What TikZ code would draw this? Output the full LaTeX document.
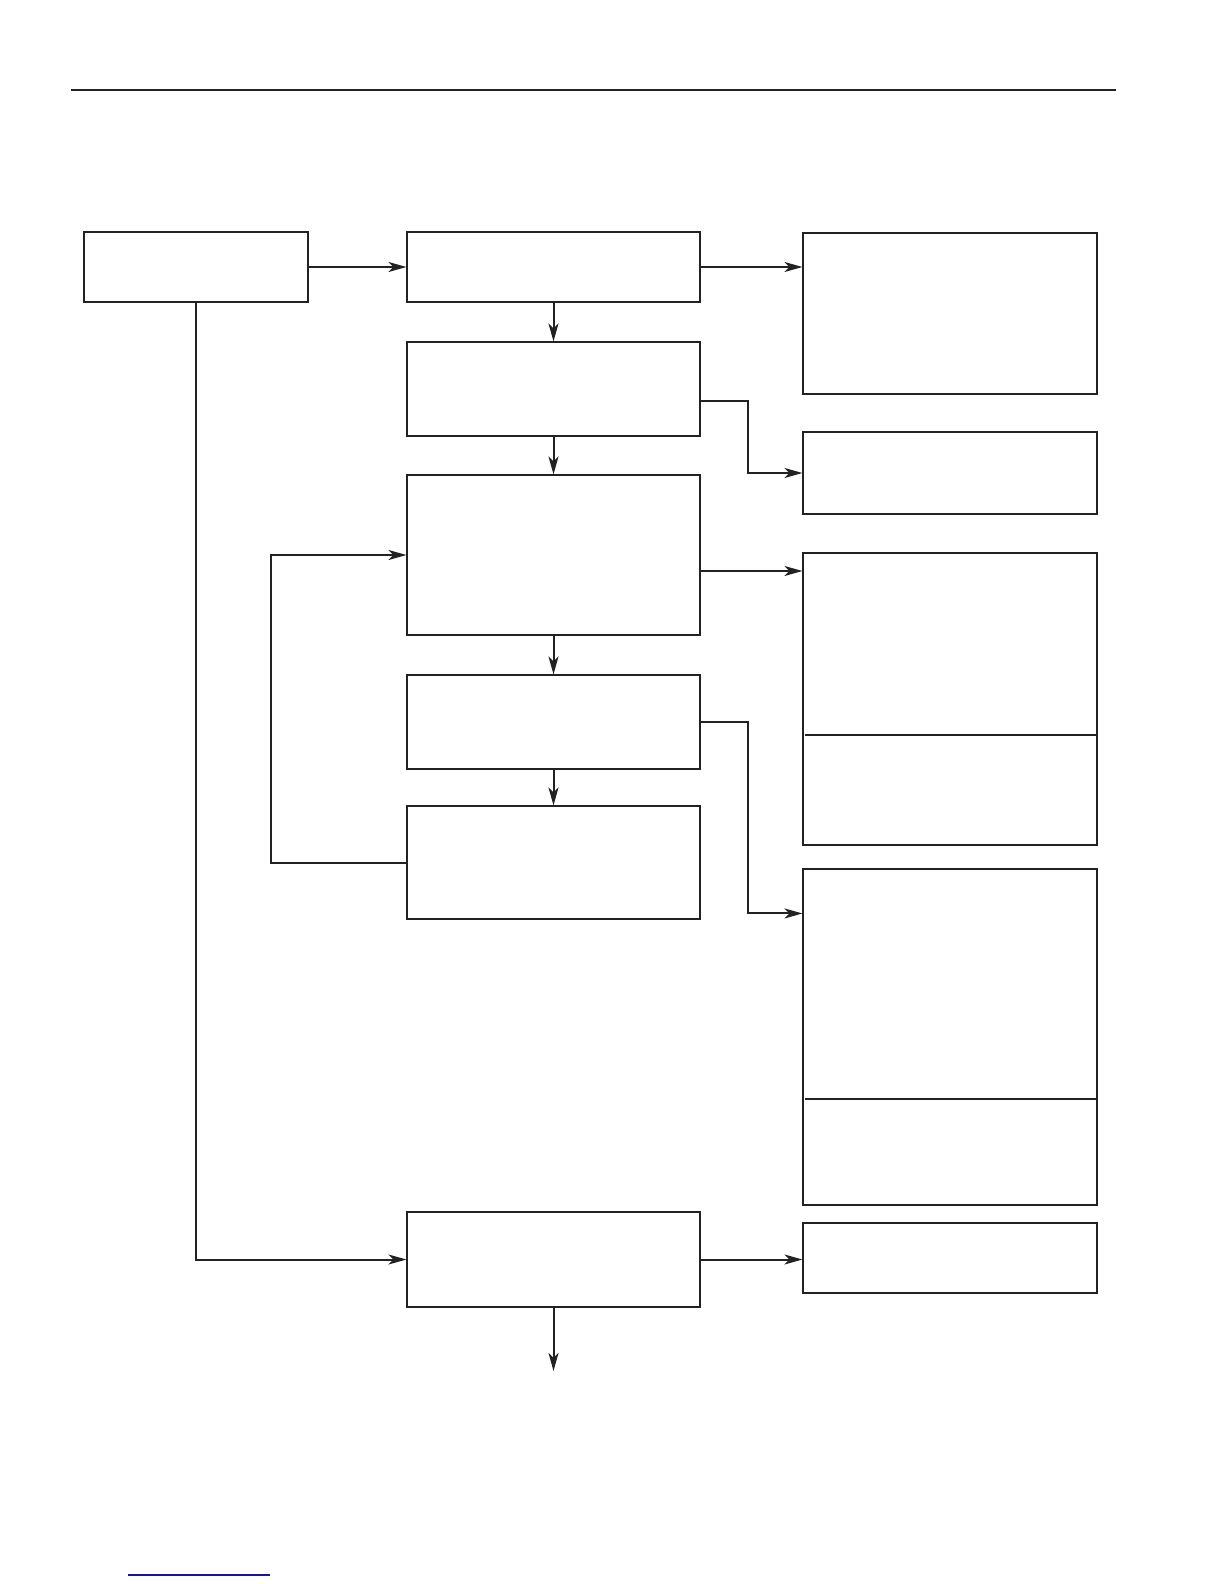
\documentclass[tikz,border=0pt]{standalone}
\usepackage{tikz}
\usetikzlibrary{
  arrows.meta,
  positioning,
  calc
}
\definecolor{inkblack}{RGB}{34,34,34}
\definecolor{linkblue}{RGB}{20,20,170}

\begin{document}
\begin{tikzpicture}[x=1pt, y=-1pt, box/.style={draw=inkblack, line width=1.1pt, inner sep=0pt, rectangle}, midbox/.style={box, minimum width=293pt}, sidebox/.style={box, minimum width=294pt}, link/.style={draw=inkblack, line width=2pt, -{Stealth[length=18pt, width=10pt, inset=5pt]}}, cut/.style={draw=inkblack, line width=1.6pt}]
            \useasboundingbox (0,0) rectangle (1224,1584);

            \coordinate (ruleL) at (71,90);
            \coordinate (ruleR) at (1116,90);
            \draw[inkblack, line width=2.6pt] (ruleL) -- (ruleR);

            \node[box, minimum width=224pt, minimum height=70pt] (start) at (196,267) {};
            \node[midbox, minimum height=70pt] (check) at (553.5,267) {};
            \node[midbox, minimum height=94pt] (inspect) at (553.5,389) {};
            \node[midbox, minimum height=160pt] (process) at (553.5,555) {};
            \node[midbox, minimum height=94pt] (verify) at (553.5,722) {};
            \node[midbox, minimum height=113pt] (repeat) at (553.5,862.5) {};
            \node[midbox, minimum height=95pt] (finish) at (553.5,1259.5) {};

            \node[sidebox, minimum height=161pt] (noteA) at (950,313.5) {};
            \node[sidebox, minimum height=82pt] (noteB) at (950,473) {};
            \node[sidebox, minimum height=292pt] (noteC) at (950,699) {};
            \node[sidebox, minimum height=336pt] (noteD) at (950,1037) {};
            \node[sidebox, minimum height=70pt] (noteE) at (950,1258) {};

            \coordinate (cutC) at (950,735);
            \coordinate (cutD) at (950,1099);
            \draw[cut] ([xshift=3pt]cutC -| noteC.west) -- ([xshift=-2pt]cutC -| noteC.east);
            \draw[cut] ([xshift=3pt]cutD -| noteD.west) -- ([xshift=-2pt]cutD -| noteD.east);

            \coordinate (inspectOut) at ([yshift=-12pt]inspect.east);
            \coordinate (processOut) at ([yshift=-16pt]process.east);
            \coordinate (noteDIn) at ([yshift=-45pt]noteD.north west);
            \coordinate (exit) at (553.5,1371);

            \draw[link] (start.east) -- (check.west);
            \draw[link] (check.east) -- (check.east -| noteA.west);
            \draw[link] (check.south) -- (inspect.north);
            \draw[link] (inspectOut) -- ++(47,0) |- (noteB.west);
            \draw[link] (inspect.south) -- (process.north);
            \draw[link] (processOut) -- (processOut -| noteC.west);
            \draw[link] (process.south) -- (verify.north);
            \draw[link] (verify.east) -- ++(47,0) |- (noteDIn);
            \draw[link] (verify.south) -- (repeat.north);
            \draw[link] (repeat.west) -- ++(-135,0) |- (process.west);
            \draw[link] (start.south) |- (finish.west);
            \draw[link] (finish.east) -- (finish.east -| noteE.west);
            \draw[link] (finish.south) -- (exit);

            \coordinate (footL) at (128,1575);
            \coordinate (footR) at (270,1575);
            \draw[linkblue, line width=1.5pt] (footL) -- (footR);
        \end{tikzpicture}
\end{document}
